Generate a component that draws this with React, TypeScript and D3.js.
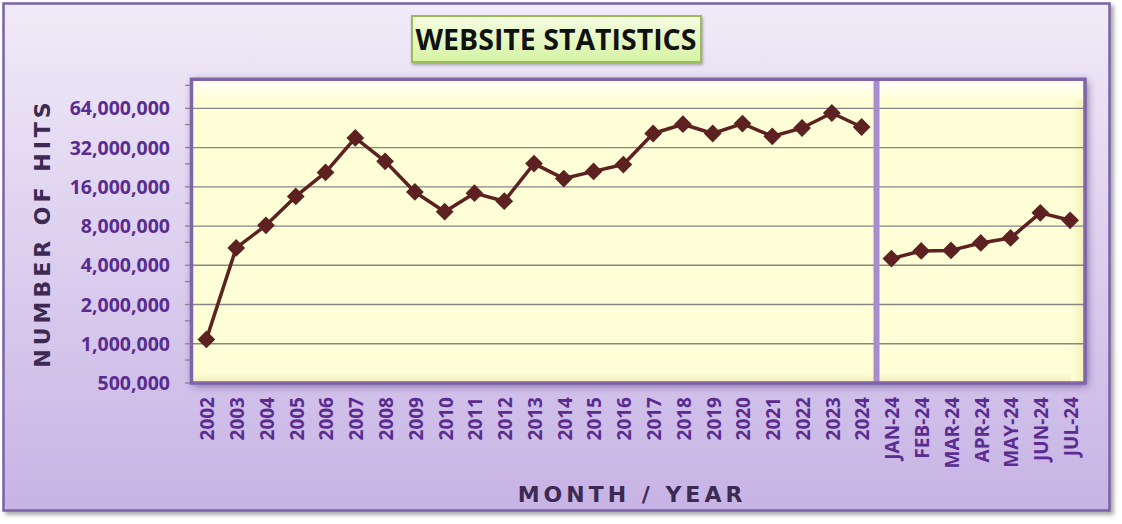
import React from "react";
import * as d3 from "d3";

const years = ["2002","2003","2004","2005","2006","2007","2008","2009","2010","2011","2012","2013","2014","2015","2016","2017","2018","2019","2020","2021","2022","2023","2024"];
const yearHits = [1080000,5430000,8100000,13500000,20600000,37900000,25100000,14600000,10300000,14300000,12400000,24100000,18500000,21000000,23700000,41000000,48300000,41000000,48900000,39000000,45200000,58900000,46000000];
const months = ["JAN-24","FEB-24","MAR-24","APR-24","MAY-24","JUN-24","JUL-24"];
const monthHits = [4500000,5150000,5200000,5930000,6480000,10100000,8850000];
const yTicks = [500000,1000000,2000000,4000000,8000000,16000000,32000000,64000000];
const yMinorTicks = [750000,1500000,3000000,6000000,12000000,24000000,48000000,96000000];

const W = 1122, H = 524;
const plot = { x0: 191.5, x1: 1085, y0: 79.3, y1: 383 };

export default function App() {
  const categories = [...years, ...months];
  const x = d3.scaleBand<string>().domain(categories).range([plot.x0, plot.x1]).padding(0);
  const y = d3.scaleLog().base(2).domain([500000, 64000000]).range([383, 108.3]);
  const cx = (c: string) => (x(c) as number) + x.bandwidth() / 2;
  const line = d3.line<[string, number]>().x(d => cx(d[0])).y(d => y(d[1]));
  const yearPts: [string, number][] = years.map((c, i) => [c, yearHits[i]]);
  const monthPts: [string, number][] = months.map((c, i) => [c, monthHits[i]]);
  const diamond = d3.symbol().type(d3.symbolSquare).size(158)() as string;
  const fmt = d3.format(",");
  const divX = x(months[0]) as number;
  const labelColor = "#5b2c8f";
  const titleColor = "#3c2a52";

  return (
    <svg width={W} height={H} style={{ position: "absolute", left: 0, top: 0 }}>
      <defs>
        <linearGradient id="bg" x1="0" y1="0" x2="0" y2="1">
          <stop offset="0" stopColor="#f0ebf8" />
          <stop offset="1" stopColor="#c7b3e5" />
        </linearGradient>
        <linearGradient id="titleBg" x1="0" y1="0" x2="0" y2="1">
          <stop offset="0" stopColor="#f5fce2" />
          <stop offset="1" stopColor="#d5f3a4" />
        </linearGradient>
        <linearGradient id="topBevel" x1="0" y1="0" x2="0" y2="1">
          <stop offset="0" stopColor="#ffffff" stopOpacity="1" />
          <stop offset="1" stopColor="#ffffff" stopOpacity="0" />
        </linearGradient>
        <linearGradient id="rightBevel" x1="0" y1="0" x2="1" y2="0">
          <stop offset="0" stopColor="#f3efb8" stopOpacity="0" />
          <stop offset="1" stopColor="#f3efb8" stopOpacity="1" />
        </linearGradient>
        <linearGradient id="bottomBevel" x1="0" y1="0" x2="0" y2="1">
          <stop offset="0" stopColor="#f0ecb8" stopOpacity="0" />
          <stop offset="1" stopColor="#f0ecb8" stopOpacity="1" />
        </linearGradient>
        <filter id="frameShadow" x="-5%" y="-5%" width="110%" height="115%">
          <feDropShadow dx="3" dy="3" stdDeviation="2" floodColor="#000" floodOpacity="0.35" />
        </filter>
        <filter id="plotShadow" x="-5%" y="-10%" width="110%" height="125%">
          <feDropShadow dx="2" dy="2" stdDeviation="4" floodColor="#3f2a66" floodOpacity="0.7" />
        </filter>
        <filter id="titleShadow" x="-10%" y="-20%" width="120%" height="150%">
          <feDropShadow dx="1" dy="2" stdDeviation="1.5" floodColor="#000" floodOpacity="0.3" />
        </filter>
      </defs>

      <rect x={3.5} y={3.5} width={1106} height={507} fill="url(#bg)" stroke="#7a62a6" strokeWidth={2.5} filter="url(#frameShadow)" />

      {/* Plot area */}
      <rect x={plot.x0} y={plot.y0} width={plot.x1 - plot.x0} height={plot.y1 - plot.y0} fill="#ffffd7" filter="url(#plotShadow)" />
      <rect x={plot.x0} y={plot.y0} width={plot.x1 - plot.x0} height={20} fill="url(#topBevel)" />
      <rect x={plot.x1 - 14} y={plot.y0 + 20} width={14} height={plot.y1 - plot.y0 - 20} fill="url(#rightBevel)" />
      <rect x={plot.x0} y={plot.y1 - 10} width={plot.x1 - plot.x0 - 14} height={10} fill="url(#bottomBevel)" />

      {yTicks.slice(1).map(t => (
        <line key={"g" + t} x1={plot.x0} x2={plot.x1} y1={y(t)} y2={y(t)} stroke="#868686" strokeWidth={1.3} />
      ))}
      {[...yTicks, ...yMinorTicks].map(t => (
        <line key={"t" + t} x1={185} x2={plot.x0} y1={y(t)} y2={y(t)} stroke="#868686" strokeWidth={1.3} />
      ))}

      <rect x={divX - 3} y={plot.y0} width={6} height={plot.y1 - plot.y0} fill="#a98bd0" />

      <rect x={plot.x0} y={plot.y0} width={plot.x1 - plot.x0} height={plot.y1 - plot.y0} fill="none" stroke="#7f64a9" strokeWidth={3.5} />

      {yTicks.map(t => (
        <text key={"yl" + t} x={170} y={y(t)} dy="0.36em" textAnchor="end" fill={labelColor}
          fontFamily="'Open Sans', sans-serif" fontWeight="bold" fontSize={19.5}>{fmt(t)}</text>
      ))}

      {categories.map(c => (
        <text key={"xl" + c} transform={`translate(${cx(c) + 1},397) rotate(-90)`} dy="0.36em" textAnchor="end"
          fill={labelColor} fontFamily="'Open Sans', sans-serif" fontWeight="bold" fontSize={19}>{c}</text>
      ))}

      {/* Series */}
      <path d={line(yearPts) as string} fill="none" stroke="#5e2121" strokeWidth={3.5} strokeLinejoin="round" />
      <path d={line(monthPts) as string} fill="none" stroke="#5e2121" strokeWidth={3.5} strokeLinejoin="round" />
      {[...yearPts, ...monthPts].map(d => (
        <path key={"m" + d[0]} d={diamond} transform={`translate(${cx(d[0])},${y(d[1])}) rotate(45)`} fill="#5e2121" />
      ))}

      {/* Title */}
      <rect x={412} y={16} width={289} height={46} fill="url(#titleBg)" stroke="#9bbb59" strokeWidth={2} filter="url(#titleShadow)" />
      <text x={556} y={50} textAnchor="middle" fill="#111" fontFamily="'Open Sans', sans-serif" fontWeight="bold" fontSize={28.5}>WEBSITE STATISTICS</text>

      {/* Axis titles */}
      <text x={632} y={502} textAnchor="middle" fill={titleColor} fontFamily="'DejaVu Sans', sans-serif" fontWeight="bold" fontSize={22} letterSpacing={4}>MONTH / YEAR</text>
      <text transform="translate(50,233) rotate(-90)" textAnchor="middle" fill={titleColor} fontFamily="'DejaVu Sans', sans-serif" fontWeight="bold" fontSize={22} letterSpacing={4}>NUMBER OF HITS</text>
    </svg>
  );
}
